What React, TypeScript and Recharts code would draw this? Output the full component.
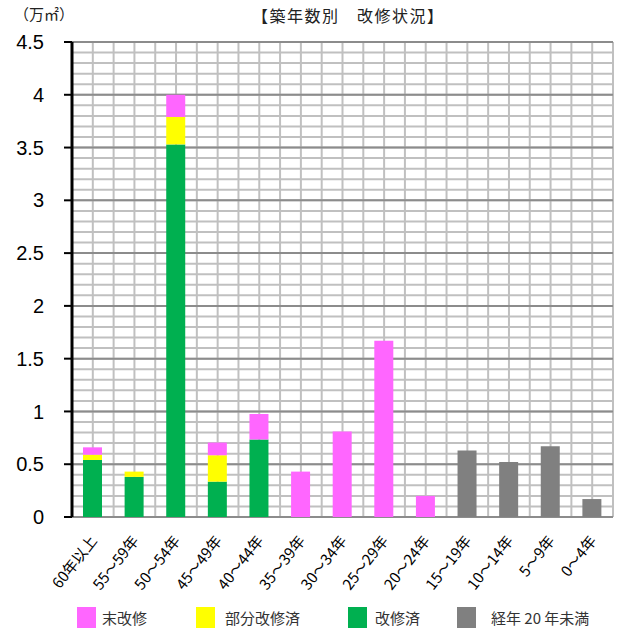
import React from 'react';
import { BarChart, Bar, XAxis, YAxis, CartesianGrid } from 'recharts';

const categories = ['60年以上', '55～59年', '50～54年', '45～49年', '40～44年', '35～39年', '30～34年', '25～29年', '20～24年', '15～19年', '10～14年', '5～9年', '0～4年'];
const renovated = [0.54, 0.38, 3.53, 0.335, 0.735, 0, 0, 0, 0, 0, 0, 0, 0];
const partial = [0.05, 0.05, 0.26, 0.25, 0, 0, 0, 0, 0, 0, 0, 0, 0];
const unrenovated = [0.07, 0, 0.21, 0.12, 0.24, 0.43, 0.81, 1.67, 0.2, 0, 0, 0, 0];
const under20 = [0, 0, 0, 0, 0, 0, 0, 0, 0, 0.63, 0.52, 0.67, 0.17];

const yTicks = [0, 0.5, 1, 1.5, 2, 2.5, 3, 3.5, 4, 4.5];
const minorY = Array.from({ length: 46 }, (_, i) => i / 10);
const boundaryTicks = Array.from({ length: 14 }, (_, i) => i);
const halfTicks = Array.from({ length: 27 }, (_, i) => i / 2);

const legendItems = [
  { label: '末改修', color: '#FF66FF', left: 77, textLeft: 102 },
  { label: '部分改修済', color: '#FFFF00', left: 196, textLeft: 225 },
  { label: '改修済', color: '#00B050', left: 348, textLeft: 375 },
  { label: '経年 20 年未満', color: '#808080', left: 457, textLeft: 491 },
];

const data = categories.map((name, i) => ({
  name,
  renovated: renovated[i],
  partial: partial[i],
  unrenovated: unrenovated[i],
  under20: under20[i],
}));

const JP = '"Noto Sans CJK JP", "Noto Sans", sans-serif';

const XTick = (props: any) => {
  const { x, y, payload } = props;
  const ax = x + 5;
  const ay = y + 24;
  return (
    <text
      x={ax}
      y={ay}
      transform={`rotate(-52 ${ax} ${ay})`}
      textAnchor="end"
      fontSize={15}
      fill="#000"
      fontFamily={JP}
    >
      {payload.value}
    </text>
  );
};

const verticalGen = (args: any) => {
  const xAxis = args && args.xAxis;
  if (xAxis && typeof xAxis.scale === 'function' && xAxis.type === 'number') {
    return halfTicks.map((v) => xAxis.scale(v));
  }
  const off = args.offset;
  return halfTicks.map((v) => off.left + (v / categories.length) * off.width);
};

export default function App() {
  return (
    <div style={{ position: 'absolute', left: 0, top: 0, width: 617, height: 630, background: '#fff', fontFamily: JP }}>
      <div style={{ position: 'absolute', left: 14, top: 3, fontSize: 15, color: '#222', whiteSpace: 'nowrap', lineHeight: '22px', fontFamily: '"Noto Sans CJK JP"' }}>
        （万㎡）
      </div>
      <div style={{ position: 'absolute', left: 252, top: 4, fontSize: 16, color: '#222', letterSpacing: 1.5, whiteSpace: 'nowrap', lineHeight: '22px' }}>
        【築年数別　改修状況】
      </div>
      <BarChart
        width={617}
        height={630}
        data={data}
        margin={{ top: 42, right: 4, bottom: 0, left: 0 }}
        barSize={19}
      >
        <CartesianGrid
          xAxisId="num"
          horizontalValues={minorY}
          verticalCoordinatesGenerator={verticalGen}
          stroke="#C0C0C0"
          strokeWidth={2}
          fill="none"
        />
        <CartesianGrid
          xAxisId="num"
          vertical={false}
          horizontalValues={yTicks}
          stroke="#8C8C8C"
          strokeWidth={2}
          fill="none"
        />
        <XAxis
          xAxisId="num"
          type="number"
          domain={[0, 13]}
          ticks={boundaryTicks}
          interval={0}
          height={0}
          tick={false}
          tickSize={6}
          tickLine={{ stroke: '#8C8C8C', strokeWidth: 2 }}
          axisLine={{ stroke: '#8C8C8C', strokeWidth: 2 }}
          allowDataOverflow
        />
        <XAxis
          dataKey="name"
          height={113}
          interval={0}
          axisLine={false}
          tickLine={false}
          tickSize={0}
          tickMargin={0}
          tick={<XTick />}
        />
        <YAxis
          width={72}
          domain={[0, 4.5]}
          ticks={yTicks}
          interval={0}
          tickSize={8}
          tickMargin={20}
          axisLine={{ stroke: '#000', strokeWidth: 3 }}
          tickLine={{ stroke: '#000', strokeWidth: 2 }}
          tick={{ fontSize: 20, fill: '#000', fontFamily: '"Liberation Sans", Arial, sans-serif' }}
        />
        <Bar dataKey="renovated" stackId="s" fill="#00B050" isAnimationActive={false} />
        <Bar dataKey="partial" stackId="s" fill="#FFFF00" isAnimationActive={false} />
        <Bar dataKey="unrenovated" stackId="s" fill="#FF66FF" isAnimationActive={false} />
        <Bar dataKey="under20" stackId="s" fill="#808080" isAnimationActive={false} />
      </BarChart>
      {legendItems.map((item) => (
        <React.Fragment key={item.label}>
          <div style={{ position: 'absolute', left: item.left, top: 607, width: 19, height: 21, background: item.color }} />
          <div style={{ position: 'absolute', left: item.textLeft, top: 607, fontSize: 15, lineHeight: '22px', color: '#333', whiteSpace: 'nowrap' }}>
            {item.label}
          </div>
        </React.Fragment>
      ))}
    </div>
  );
}
